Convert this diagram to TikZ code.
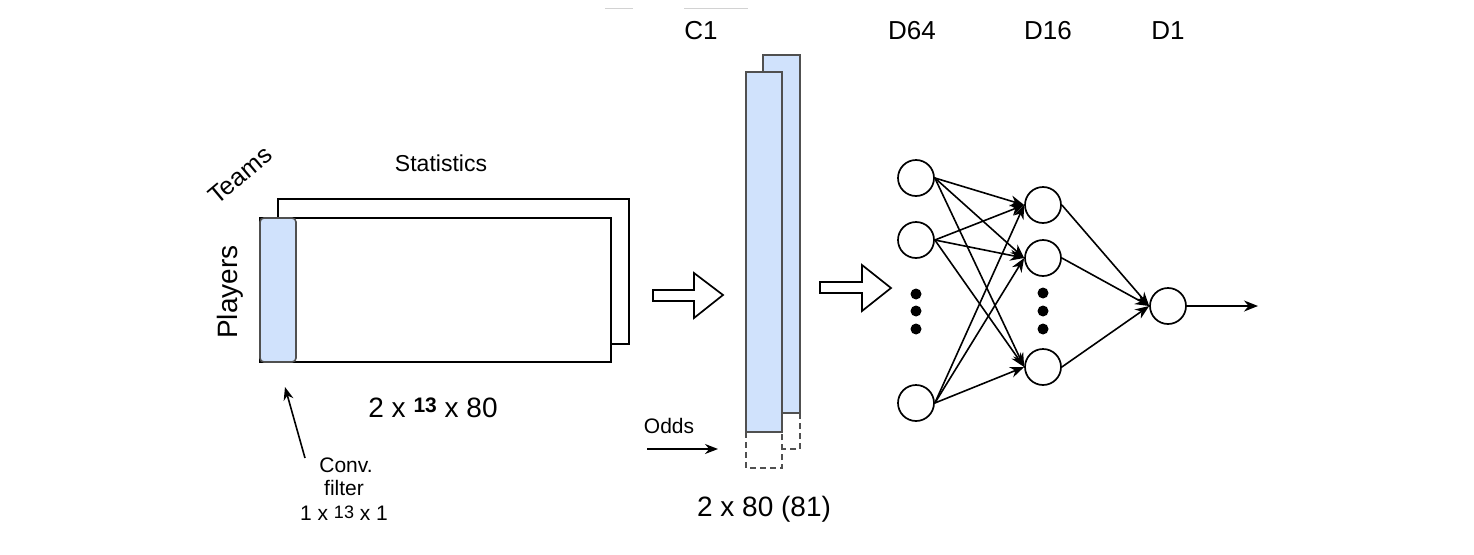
\documentclass[tikz,border=0pt]{standalone}
\usepackage{fontspec}
\setmainfont{Liberation Sans}
\usetikzlibrary{arrows.meta}
\definecolor{barblue}{RGB}{208,226,252}
\definecolor{bargray}{RGB}{80,80,80}
\begin{document}
\begin{tikzpicture}[x=1pt,y=-1pt,line join=miter,
  neuron/.style={circle,draw,line width=1.7pt,minimum size=36pt,inner sep=0pt,fill=white},
  conn/.style={line width=1.6pt,-{Stealth[length=14pt,width=11pt]}},
  thinarrow/.style={line width=1.6pt,-{Stealth[length=13pt,width=10pt]}},
  dotnode/.style={circle,fill=black,minimum size=11pt,inner sep=0pt},
  boxline/.style={line width=1.7pt},
  barline/.style={line width=1.7pt,draw=bargray,fill=barblue},
  dashline/.style={line width=1.6pt,draw=bargray,dash pattern=on 6pt off 4pt},
  hollow/.style={line width=1.7pt,draw=black,fill=white},
  lbl/.style={inner sep=0pt,anchor=base},
  f21/.style={font=\fontsize{21}{24}\selectfont},
  f23/.style={font=\fontsize{23}{27}\selectfont},
  f26/.style={font=\fontsize{26}{30}\selectfont},
  f28/.style={font=\fontsize{28}{32}\selectfont}]
\useasboundingbox (0,0) rectangle (1474,554);

% faint top lines
\draw[gray!35,line width=1pt] (605,8) -- (633,8);
\draw[gray!35,line width=1pt] (684,8) -- (748,8);

% input tensor
\draw[boxline,fill=white] (278,199) rectangle (629,344);
\draw[boxline,fill=white] (260,218) rectangle (611,362);
\draw[line width=1.6pt,draw=bargray,fill=barblue,rounded corners=4pt] (260,218) rectangle (296,362);

\node[lbl,f23] (stat) at (441,171) {Statistics};
\node[lbl,f28,rotate=90] (players) at (237,292) {Players};
\node[inner sep=0pt,font=\fontsize{25}{28}\selectfont,rotate=40] (teams) at (240,175) {Teams};
\node[lbl,f28] (dim1) at (433,417) {2 x \raisebox{5pt}{\fontsize{21}{24}\selectfont\bfseries 13} x 80};

\node[lbl,f21] (conv) at (346,472) {Conv.};
\node[lbl,f21] (filt) at (344,495) {filter};
\node[lbl,f21] (fdim) at (344,520) {1 x \raisebox{2pt}{\fontsize{18}{20}\selectfont 13} x 1};
\coordinate (cstart) at (305,458);
\coordinate (cend) at (285,387);
\draw[thinarrow] (cstart) -- (cend);

% hollow arrows
\draw[hollow] (653,290) -- (694,290) -- (694,273) -- (723,295) -- (694,318) -- (694,301) -- (653,301) -- cycle;
\draw[hollow] (820,282) -- (862,282) -- (862,265) -- (891,288) -- (862,311) -- (862,293) -- (820,293) -- cycle;

% C1 bars
\draw[barline] (763,55) rectangle (800,413);
\draw[dashline] (800,413) -- (800,449) -- (782,449);
\draw[barline] (746,72) rectangle (782,432);
\draw[dashline] (746,432) rectangle (782,468);

\node[lbl,f26] (c1) at (701,39) {C1};
\node[lbl,f21] (odds) at (669,433) {Odds};
\coordinate (ostart) at (647,449);
\coordinate (oend) at (718,449);
\draw[thinarrow] (ostart) -- (oend);
\node[lbl,f28] (dim2) at (764,516) {2 x 80 (81)};

% network labels
\node[lbl,f26] (d64) at (912,39) {D64};
\node[lbl,f26] (d16) at (1048,39) {D16};
\node[lbl,f26] (d1) at (1168,39) {D1};

% neurons
\node[neuron] (i1) at (916,178) {};
\node[neuron] (i2) at (916,240) {};
\node[neuron] (i3) at (916,403) {};
\node[neuron] (h1) at (1043,205) {};
\node[neuron] (h2) at (1043,258) {};
\node[neuron] (h3) at (1043,367) {};
\node[neuron] (o) at (1168,306) {};
\coordinate (out) at (1258,306);

\node[dotnode] (da1) at (916,294) {};
\node[dotnode] (da2) at (916,311) {};
\node[dotnode] (da3) at (916,329) {};
\node[dotnode] (db1) at (1043,293) {};
\node[dotnode] (db2) at (1043,311) {};
\node[dotnode] (db3) at (1043,329) {};

\foreach \a in {i1,i2,i3}
  \foreach \b in {h1,h2,h3}
    \draw[conn] (\a.east) -- (\b.west);
\foreach \b in {h1,h2,h3}
  \draw[conn] (\b.east) -- (o.west);
\draw[conn] (o.east) -- (out);
\end{tikzpicture}
\end{document}
